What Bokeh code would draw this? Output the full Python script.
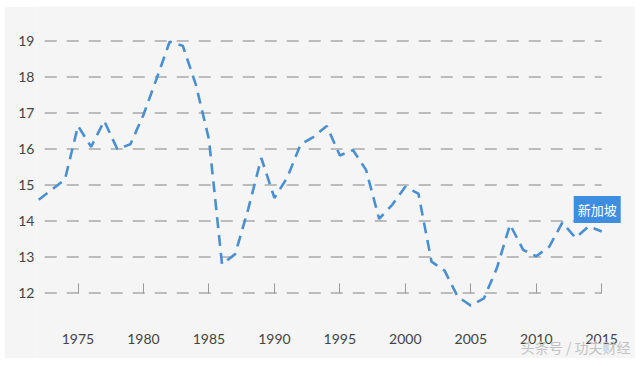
from bokeh.plotting import figure
from bokeh.models import Range1d, FixedTicker, Label, ColumnDataSource
from bokeh.embed import file_html
from bokeh.resources import INLINE

years = list(range(1972, 2016))
values = [14.59, 14.87, 15.15, 16.64, 16.06, 16.78, 16.00, 16.13, 16.95, 17.95,
          18.98, 18.87, 17.79, 16.27, 12.80, 13.08, 14.33, 15.75, 14.64, 15.22,
          16.13, 16.34, 16.64, 15.82, 15.97, 15.42, 14.06, 14.45, 14.95, 14.76,
          12.87, 12.62, 11.90, 11.65, 11.85, 12.70, 13.90, 13.20, 13.02, 13.29,
          13.96, 13.53, 13.85, 13.71]
series_name = "新加坡"
x_ticks = [1975, 1980, 1985, 1990, 1995, 2000, 2005, 2010, 2015]
y_ticks = [12, 13, 14, 15, 16, 17, 18, 19]
watermark = "头条号 / 功夫财经"

BG = "#f5f5f5"
p = figure(width=631, height=352, output_backend="svg", toolbar_location=None,
           x_range=Range1d(1971.83, 2017.58), y_range=Range1d(10.181, 19.958),
           min_border_left=32, min_border_right=0, min_border_top=0, min_border_bottom=0,
           background_fill_color=BG, border_fill_color=BG)
p.margin = (6, 0, 0, 4)
p.outline_line_color = None
p.xgrid.grid_line_color = None
p.ygrid.grid_line_color = None

# horizontal dashed guide lines spanning the data years
grid_src = ColumnDataSource(dict(y=y_ticks, x0=[years[0]] * len(y_ticks), x1=[years[-1]] * len(y_ticks)))
p.segment(x0="x0", x1="x1", y0="y", y1="y", source=grid_src,
          line_color="#a9a9a9", line_width=1.5, line_dash="12 10", line_dash_offset=16)

src = ColumnDataSource(dict(x=years, y=values))
p.line("x", "y", source=src, line_color="#4a8fcf", line_width=2.6, line_dash="11 7")

# x axis drawn at y = 12
xa = p.xaxis[0]
xa.fixed_location = 12
xa.ticker = FixedTicker(ticks=x_ticks)
xa.axis_line_color = None
xa.major_tick_in = 10
xa.major_tick_out = 0
xa.major_tick_line_color = "#999999"
xa.major_tick_line_width = 1
xa.minor_tick_line_color = None
xa.major_label_standoff = 41
xa.major_label_text_font = "Lato"
xa.major_label_text_font_size = "14px"
xa.major_label_text_color = "#444444"

ya = p.yaxis[0]
ya.ticker = FixedTicker(ticks=y_ticks)
ya.axis_line_color = None
ya.major_tick_line_color = None
ya.major_tick_in = 0
ya.major_tick_out = 0
ya.minor_tick_line_color = None
ya.minor_tick_out = 0
ya.major_label_standoff = 2
ya.major_label_text_font = "Lato"
ya.major_label_text_font_size = "14px"
ya.major_label_text_color = "#444444"

lab = Label(x=years[-1], y=values[-1], x_offset=-28, y_offset=22, text=series_name,
            text_align="left", text_baseline="middle",
            text_font="Noto Sans CJK SC", text_font_size="13px", text_color="white",
            background_fill_color="#3d8ee0", padding=4)
p.add_layout(lab)

wm = Label(x=p.x_range.end, y=p.y_range.start, x_offset=-5, y_offset=2, text=watermark,
           text_align="right", text_baseline="bottom",
           text_font="Noto Sans CJK SC", text_font_size="14px", text_color="#c2c2c2")
p.add_layout(wm)

open("out.html", "w").write(file_html(p, INLINE))
